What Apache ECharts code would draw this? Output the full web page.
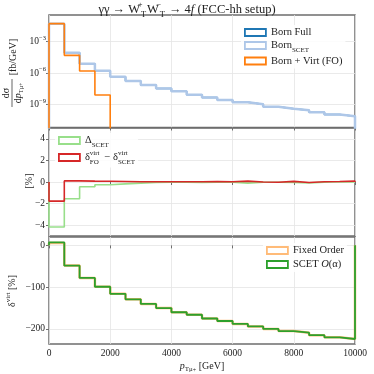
<!DOCTYPE html>
<html><head><meta charset="utf-8">
<script src="https://cdn.jsdelivr.net/npm/echarts@6/dist/echarts.min.js"></script>
<style>html,body{margin:0;padding:0;background:#fff}#c{width:374px;height:374px}</style>
</head><body><div id="c"></div>
<script>
// ---- data ----
const binEdges = [0,500,1000,1500,2000,2500,3000,3500,4000,4500,5000,5500,6000,6500,7000,7500,8000,8500,9000,9500,10000];
const bornFull   = [5.2e-2,8.9e-5,7.9e-6,1.7e-6,4.7e-7,1.8e-7,7.6e-8,3.6e-8,1.9e-8,8.9e-9,5.0e-9,2.8e-9,1.7e-9,1.1e-9,6.5e-10,4.2e-10,3.0e-10,1.9e-10,1.2e-10,7.9e-11];
const bornSCET   = [5.2e-2,8.9e-5,7.9e-6,1.7e-6,4.7e-7,1.8e-7,7.6e-8,3.6e-8,1.9e-8,8.9e-9,5.0e-9,2.8e-9,1.7e-9,1.1e-9,6.5e-10,4.2e-10,3.0e-10,1.9e-10,1.2e-10,7.9e-11];
const bornVirtFO = [5.2e-2,5.0e-5,1.6e-6,8.3e-9,0,0,0,0,0,0,0,0,0,0,0,0,0,0,0,0];
const deltaSCET  = [-4.16,-1.55,-0.44,-0.25,-0.17,-0.1,-0.05,-0.03,-0.02,-0.05,-0.02,-0.02,-0.1,-0.02,-0.03,-0.05,-0.08,-0.02,0.02,0.0];
const deltaFOmSCET = [-1.77,0.1,0.08,0.07,0.05,0.03,0.02,0.02,0.03,0.03,0.05,0.03,0.08,0.0,-0.02,0.06,-0.05,0.03,0.05,0.08];
const fixedOrder = [5.4,-48.4,-77.9,-98.9,-116,-129,-140,-150,-160,-166,-175,-181,-188,-194,-200,-205,-209,-215,-220,-224];
const scetOalpha = [7.2,-48.5,-78,-99,-116,-129,-140,-150,-160,-166,-175,-181,-188,-194,-200,-205,-209,-215,-220,-224];
const xTicks   = [0,2000,4000,6000,8000,10000];
const topTicks = [1e-9,1e-6,1e-3];
const midTicks = [-4,-2,0,2,4];
const botTicks = [-200,-100,0];

const LOG_FLOOR = 1e-30;
const FONT = '"Liberation Serif", "DejaVu Serif", serif';
const SPINE = '#6e6e6e';
const GRIDC = '#e4e4e4';

function steps(vals, base) {
  const n = vals.length;
  const pts = [[binEdges[0], base]];
  for (let i = 0; i < n; i++) pts.push([binEdges[i], vals[i] === 0 && base === LOG_FLOOR ? base : vals[i]]);
  pts.push([binEdges[n], vals[n-1] === 0 && base === LOG_FLOOR ? base : vals[n-1]]);
  pts.push([binEdges[n], base]);
  return pts;
}

const rich = {
  sup: {fontFamily: FONT, fontSize: 7, verticalAlign: 'top', lineHeight: 16, color: '#222'},
  sup0: {fontFamily: FONT, fontSize: 7, verticalAlign: 'top', lineHeight: 16, color: '#222', width: 0},
  sub: {fontFamily: FONT, fontSize: 7, verticalAlign: 'bottom', lineHeight: 16, color: '#222'},
  subFO: {fontFamily: FONT, fontSize: 7, verticalAlign: 'bottom', lineHeight: 16, color: '#222', width: 12},
  i: {fontFamily: FONT, fontStyle: 'italic', fontSize: 10.5, color: '#222'},
};

const chart = echarts.init(document.getElementById('c'));

function xAxis(gi, showLabels) {
  return {
    type: 'value', gridIndex: gi, min: 0, max: 10000,
    axisLine: {show: false},
    axisTick: {show: true, inside: false, length: 3, lineStyle: {color: SPINE}, customValues: xTicks},
    axisLabel: {show: showLabels, customValues: xTicks, fontFamily: FONT, fontSize: 9.5, color: '#222', margin: 4,
      formatter: v => String(v)},
    splitLine: {show: true, lineStyle: {color: GRIDC, width: 0.8}}
  };
}
const minusFmt = v => (v < 0 ? '\u2212' + Math.abs(v) : String(v));

const legendBase = {
  orient: 'vertical', selectedMode: false, itemWidth: 21, itemHeight: 7, icon: 'rect',
  backgroundColor: 'rgba(255,255,255,0.85)', padding: [2, 3],
  textStyle: {fontFamily: FONT, fontSize: 10.5, color: '#222', rich: rich}
};
function li(name, color) {
  return {name: name, itemStyle: {color: 'rgba(0,0,0,0)', borderColor: color, borderWidth: 1.8}};
}

const option = {
  animation: false,
  backgroundColor: '#fff',
  title: {
    text: '\u03b3\u03b3 \u2192 W{sup0|+}{subT|T}W{sup0|\u2212}{subT|T} \u2192 4{i|f} (FCC-hh setup)',
    left: 'center', top: -5,
    textStyle: {fontFamily: FONT, fontSize: 12.5, fontWeight: 'normal', color: '#222', rich: {
      sup0: {fontFamily: FONT, fontSize: 8.5, verticalAlign: 'top', lineHeight: 19, color: '#222', width: 0},
      subT: {fontFamily: FONT, fontSize: 8.5, verticalAlign: 'bottom', lineHeight: 19, color: '#222', width: 7},
      i: {fontFamily: FONT, fontStyle: 'italic', fontSize: 12.5, color: '#222'}
    }}
  },
  grid: [
    {left: 49, top: 15, width: 306, height: 112.5, show: true, borderColor: SPINE, borderWidth: 1.5, backgroundColor: 'transparent'},
    {left: 49, top: 128, width: 306, height: 108, show: true, borderColor: SPINE, borderWidth: 1.5, backgroundColor: 'transparent'},
    {left: 49, top: 237, width: 306, height: 109, show: true, borderColor: SPINE, borderWidth: 1.5, backgroundColor: 'transparent'}
  ],
  xAxis: [xAxis(0, false), xAxis(1, false), Object.assign(xAxis(2, true), {
    name: '{i|p}{s|T\u03bc}{ss|+} [GeV]', nameLocation: 'middle', nameGap: 15,
    nameTextStyle: {fontFamily: FONT, fontSize: 10, color: '#222', rich: {
      i: {fontFamily: FONT, fontStyle: 'italic', fontSize: 10, color: '#222'},
      s: {fontFamily: FONT, fontSize: 7, verticalAlign: 'bottom', lineHeight: 14, color: '#222'},
      ss: {fontFamily: FONT, fontSize: 6, verticalAlign: 'bottom', lineHeight: 12, color: '#222'}
    }}
  })],
  yAxis: [
    {type: 'log', logBase: 10, gridIndex: 0, min: 6.8e-12, max: 0.347,
      axisLine: {show: false},
      axisTick: {show: true, length: 3, lineStyle: {color: SPINE}, customValues: topTicks},
      axisLabel: {customValues: topTicks, margin: 3, fontFamily: FONT, fontSize: 9.5, color: '#222',
        formatter: v => '{b|10}{s|\u2212' + Math.round(-Math.log10(v)) + '}',
        rich: {b: {fontFamily: FONT, fontSize: 9.5, color: '#222', lineHeight: 14},
               s: {fontFamily: FONT, fontSize: 6.5, color: '#222', verticalAlign: 'top', lineHeight: 14}}},
      splitLine: {show: true, lineStyle: {color: GRIDC, width: 0.8}}},
    {type: 'value', gridIndex: 1, min: -5, max: 5,
      axisLine: {show: false},
      axisTick: {show: true, length: 3, lineStyle: {color: SPINE}, customValues: midTicks},
      axisLabel: {customValues: midTicks, margin: 4, fontFamily: FONT, fontSize: 9.5, color: '#222', formatter: minusFmt},
      splitLine: {show: true, lineStyle: {color: GRIDC, width: 0.8}}},
    {type: 'value', gridIndex: 2, min: -236, max: 20,
      axisLine: {show: false},
      axisTick: {show: true, length: 3, lineStyle: {color: SPINE}, customValues: botTicks},
      axisLabel: {customValues: botTicks, margin: 4, fontFamily: FONT, fontSize: 9.5, color: '#222', formatter: minusFmt},
      splitLine: {show: true, lineStyle: {color: GRIDC, width: 0.8}}}
  ],
  legend: [
    Object.assign({}, legendBase, {left: 241, top: 25, itemGap: 2,
      data: [li('Born Full', '#1f77b4'), li('Born SCET', '#aec7e8'), li('Born + Virt (FO)', '#ff7f0e')],
      formatter: n => n === 'Born SCET' ? 'Born{sub|SCET}' : n}),
    Object.assign({}, legendBase, {left: 55, top: 133, itemGap: 1,
      data: [li('Delta SCET', '#98df8a'), li('dFO-dSCET', '#d62728')],
      formatter: n => n === 'Delta SCET' ? '\u0394{sub|SCET}' : '\u03b4{sup0|virt}{subFO|FO} \u2212 \u03b4{sup0|virt}{sub|SCET}'}),
    Object.assign({}, legendBase, {left: 263, top: 243, itemGap: 3,
      data: [li('Fixed Order', '#ffbb78'), li('SCET O(a)', '#2ca02c')],
      formatter: n => n === 'SCET O(a)' ? 'SCET {i|O}(\u03b1)' : n})
  ],
  series: [
    {name: 'Born Full', type: 'line', xAxisIndex: 0, yAxisIndex: 0, step: 'end', symbol: 'none',
      data: steps(bornFull, LOG_FLOOR), lineStyle: {color: '#1f77b4', width: 1.5}, itemStyle: {color: '#1f77b4'}},
    {name: 'Born SCET', type: 'line', xAxisIndex: 0, yAxisIndex: 0, step: 'end', symbol: 'none',
      data: steps(bornSCET, LOG_FLOOR), lineStyle: {color: '#aec7e8', width: 2.5}, itemStyle: {color: '#aec7e8'}},
    {name: 'Born + Virt (FO)', type: 'line', xAxisIndex: 0, yAxisIndex: 0, step: 'end', symbol: 'none',
      data: steps(bornVirtFO, LOG_FLOOR), lineStyle: {color: '#ff7f0e', width: 1.6}, itemStyle: {color: '#ff7f0e'}},
    {name: 'Delta SCET', type: 'line', xAxisIndex: 1, yAxisIndex: 1, step: 'end', symbol: 'none',
      data: steps(deltaSCET, 0), lineStyle: {color: '#98df8a', width: 1.6}, itemStyle: {color: '#98df8a'}},
    {name: 'dFO-dSCET', type: 'line', xAxisIndex: 1, yAxisIndex: 1, step: 'end', symbol: 'none',
      data: steps(deltaFOmSCET, 0), lineStyle: {color: '#d62728', width: 1.6}, itemStyle: {color: '#d62728'}},
    {name: 'Fixed Order', type: 'line', xAxisIndex: 2, yAxisIndex: 2, step: 'end', symbol: 'none',
      data: steps(fixedOrder, 0), lineStyle: {color: '#ffbb78', width: 2.5}, itemStyle: {color: '#ffbb78'}},
    {name: 'SCET O(a)', type: 'line', xAxisIndex: 2, yAxisIndex: 2, step: 'end', symbol: 'none',
      data: steps(scetOalpha, 0), lineStyle: {color: '#2ca02c', width: 1.8}, itemStyle: {color: '#2ca02c'}}
  ],
  graphic: [
    {type: 'text', x: 6.5, y: 93, rotation: Math.PI / 2,
      style: {text: 'd\u03c3', fontFamily: FONT, fontSize: 10, fill: '#222', align: 'center', verticalAlign: 'middle'}},
    {type: 'line', shape: {x1: 12, y1: 79, x2: 12, y2: 107}, style: {stroke: '#222', lineWidth: 0.7}},
    {type: 'text', x: 18.5, y: 93, rotation: Math.PI / 2,
      style: {text: 'd{i|p}{s|T\u03bc}{ss|+}', fontFamily: FONT, fontSize: 10, fill: '#222', align: 'center', verticalAlign: 'middle',
        rich: {i: {fontFamily: FONT, fontStyle: 'italic', fontSize: 10, fill: '#222'},
               s: {fontFamily: FONT, fontSize: 6.5, verticalAlign: 'bottom', lineHeight: 13, fill: '#222'},
               ss: {fontFamily: FONT, fontSize: 5.5, verticalAlign: 'bottom', lineHeight: 11, fill: '#222'}}}},
    {type: 'text', x: 13.5, y: 57, rotation: Math.PI / 2,
      style: {text: '[fb/GeV]', fontFamily: FONT, fontSize: 10, fill: '#222', align: 'center', verticalAlign: 'middle'}},
    {type: 'text', x: 29.5, y: 181, rotation: Math.PI / 2,
      style: {text: '[%]', fontFamily: FONT, fontSize: 10, fill: '#222', align: 'center', verticalAlign: 'middle'}},
    {type: 'text', x: 12.5, y: 291, rotation: Math.PI / 2,
      style: {text: '\u03b4{s|virt} [%]', fontFamily: FONT, fontSize: 10, fill: '#222', align: 'center', verticalAlign: 'middle',
        rich: {s: {fontFamily: FONT, fontSize: 7, verticalAlign: 'top', lineHeight: 15, fill: '#222'}}}}
  ]
};
chart.setOption(option);
</script>
</body></html>
